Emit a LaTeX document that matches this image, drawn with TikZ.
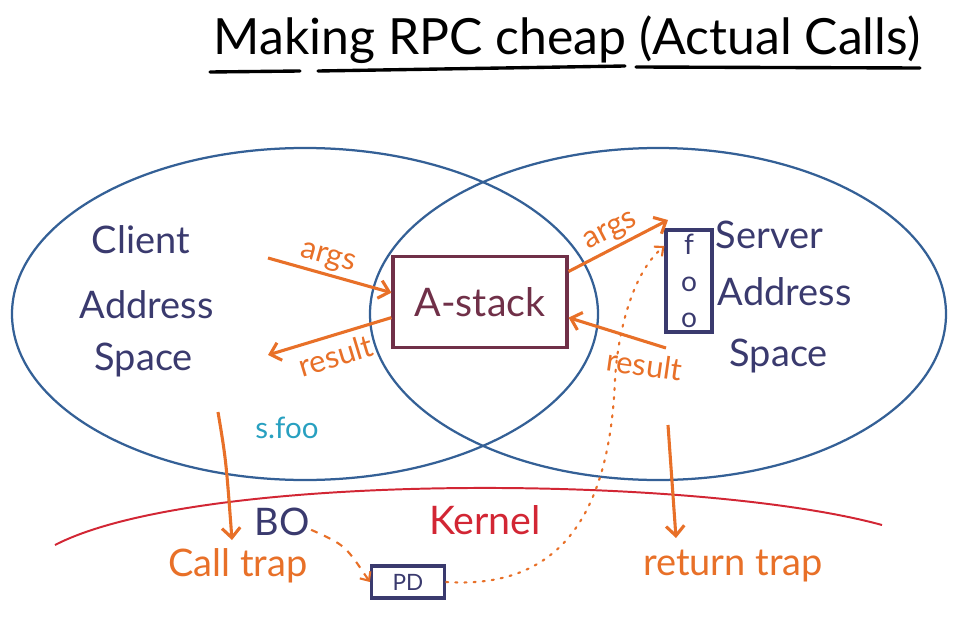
\documentclass[tikz,border=0pt]{standalone}
\usepackage{fontspec}
\setmainfont{Lato}
\usetikzlibrary{arrows.meta}
\definecolor{figblue}{RGB}{52,96,150}
\definecolor{figink}{RGB}{58,58,110}
\definecolor{figorange}{RGB}{232,112,40}
\definecolor{figred}{RGB}{210,38,52}
\definecolor{figmaroon}{RGB}{112,48,72}
\definecolor{figteal}{RGB}{40,160,192}
\tikzset{
  ell/.style  ={draw=figblue, line width=1.6pt},
  kl/.style   ={draw=figred, line width=1.4pt},
  ul/.style   ={draw=black, line width=2.4pt, line cap=round},
  ttl/.style  ={font=\fontsize{35.5}{38}\selectfont, inner sep=1pt},
  ink/.style  ={text=figink, font=\fontsize{27}{30}\selectfont, inner sep=1pt},
  olab/.style ={text=figorange, font=\fontsize{22}{24}\selectfont, inner sep=2pt},
  obig/.style ={text=figorange, font=\fontsize{27}{30}\selectfont, inner sep=1pt},
  bx/.style   ={draw, line width=2.2pt, inner sep=2pt},
  ptr/.style  ={draw=figorange, line width=2.2pt, -{Straight Barb[length=7pt,width=13pt]}},
  dptr/.style ={draw=figorange, line width=1.5pt, dash pattern=on 5pt off 5pt, -{Straight Barb[length=5pt,width=9pt]}},
  tptr/.style ={draw=figorange, line width=1.5pt, line cap=round, dash pattern=on 1.5pt off 5pt, -{Straight Barb[length=5pt,width=9pt]}},
}
\begin{document}
\begin{tikzpicture}[x=0.025cm,y=-0.025cm]
  \useasboundingbox (0,0) rectangle (961,618);
  % title
  \node[ttl] (title) at (567,40) {Making RPC cheap (Actual Calls)};
  \draw[ul] (210,72) -- (300,71);
  \draw[ul] (318,71) -- (625,66);
  \draw[ul] (636,67) -- (920,68);
  % address spaces and kernel line
  \draw[ell] (305,314) ellipse [x radius=293, y radius=166];
  \draw[ell] (658,314) ellipse [x radius=288, y radius=166];
  \draw[kl] (55,545) .. controls (200,470) and (700,475) .. (882,525);
  \node[ink,anchor=west] (cl1) at (90,240) {Client};
  \node[ink,anchor=west] (cl2) at (78,305) {Address};
  \node[ink,anchor=west] (cl3) at (93,360) {Space};
  \node[ink,anchor=west] (sv1) at (714,235) {Server};
  \node[ink,anchor=west] (sv2) at (716,292) {Address};
  \node[ink,anchor=west] (sv3) at (728,356) {Space};
  % shared stack and entry point
  \node[bx,draw=figmaroon,text=figmaroon,font=\fontsize{28}{30}\selectfont,
        minimum width=4.35cm,minimum height=2.27cm] (astack) at (480,302) {A-stack};
  \node[bx,draw=figink,text=figink,font=\fontsize{20}{26}\selectfont,align=center,
        minimum width=1.15cm,minimum height=2.55cm] (foobox) at (689,281) {f\\o\\o};
  \coordinate (cargs) at (268,258);
  \coordinate (cres) at (268,355);
  \coordinate (sargs) at (668,220);
  \coordinate (sres) at (666,348);
  \draw[ptr] (cargs) -- node[olab,above,sloped,pos=0.45] {args} (astack.174);
  \draw[ptr] (astack.190) -- node[olab,below=3pt,sloped] {result} (cres);
  \draw[ptr] (astack.19) -- node[olab,above,sloped] {args} (sargs);
  \draw[ptr] (sres) -- node[olab,below=5pt,pos=0.2,rotate=-8] {result} (astack.350);
  % traps through the kernel
  \node[text=figteal,font=\fontsize{21}{22}\selectfont] (sfoo) at (287,428) {s.foo};
  \node[ink] (bo) at (282,522) {BO};
  \node[text=figred,font=\fontsize{28}{30}\selectfont] (kernel) at (485,520) {Kernel};
  \node[obig] (calltrap) at (238,566) {Call trap};
  \node[obig] (returntrap) at (733,566) {return trap};
  \node[bx,draw=figink,text=figink,font=\fontsize{16}{18}\selectfont,
        minimum width=1.83cm,minimum height=0.8cm] (pd) at (408,582) {PD};
  \coordinate (ctin) at (218,412);
  \coordinate (ctout) at (232,540);
  \coordinate (rtin) at (668,425);
  \coordinate (rtout) at (676,538);
  \draw[ptr] (ctin) .. controls (226,460) .. (ctout);
  \draw[ptr] (rtin) .. controls (672,480) .. (rtout);
  \draw[dptr] (bo.-15) .. controls (345,545) .. (pd.west);
  \draw[tptr] (pd.east) .. controls (570,590) and (610,500) .. (615,380)
                        .. controls (617,340) and (630,275) .. (foobox.125);
\end{tikzpicture}
\end{document}
